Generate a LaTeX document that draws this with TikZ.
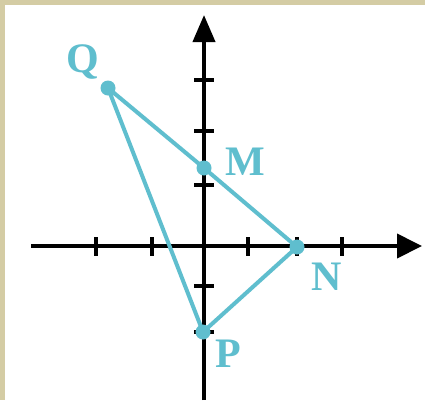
\documentclass[tikz,border=0pt]{standalone}
\usepackage{fontspec}
\setmainfont{Liberation Serif}
\usetikzlibrary{arrows.meta}
\definecolor{framec}{RGB}{212,204,164}
\definecolor{cy}{RGB}{95,190,206}
\begin{document}
\begin{tikzpicture}[x=1pt,y=-1pt,
  axis/.style={line width=4pt,black},
  tickmark/.style={line width=3.3pt,black},
  ptnode/.style={circle,inner sep=0pt,minimum size=15pt},
  edge/.style={cy,line width=4pt,line join=round},
  lbl/.style={text=cy,font=\fontsize{42}{42}\selectfont\bfseries,inner sep=0pt,anchor=base}]
\useasboundingbox (0,0) rectangle (425,400);
\fill[white] (0,0) rectangle (425,400);
\fill[framec] (0,0) rectangle (425,5);
\fill[framec] (0,0) rectangle (5,400);
% axes
\coordinate (xs) at (31,246);
\coordinate (xe) at (422,246);
\coordinate (ys) at (204,400);
\coordinate (ye) at (204,15);
\draw[axis,-{Triangle[length=25pt,width=24pt]}] (xs) -- (xe);
\draw[axis,-{Triangle[length=27pt,width=22pt]}] (ys) -- (ye);
% ticks
\foreach \x in {96,152,248,297,342} \draw[tickmark] (\x,237) -- (\x,256);
\foreach \y in {80,131,185,286,332} \draw[tickmark] (194,\y) -- (214,\y);
% points
\node[ptnode] (Q) at (108,88) {};
\node[ptnode] (M) at (204,168) {};
\node[ptnode] (N) at (297,247) {};
\node[ptnode] (P) at (203,332) {};
\draw[edge] (Q.center) -- (M.center) -- (N.center) -- (P.center) -- cycle;
\foreach \p in {Q,M,N,P} \fill[cy] (\p) circle (7.5pt);
% labels
\node[lbl] (lQ) at (83,72) {Q};
\node[lbl] (lM) at (245,175) {M};
\node[lbl] (lN) at (327,290) {N};
\node[lbl] (lP) at (228,367) {P};
\end{tikzpicture}
\end{document}
